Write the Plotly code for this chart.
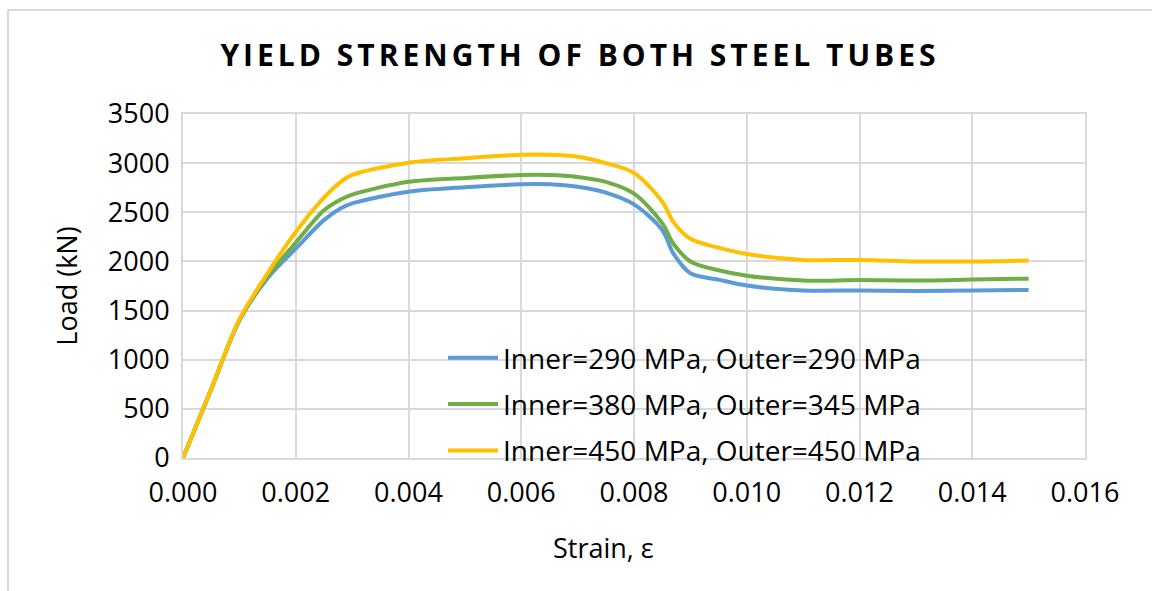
import plotly.graph_objects as go

strain = [0, 0.0005, 0.001, 0.0015, 0.002, 0.0025, 0.0028, 0.003, 0.004, 0.005,
          0.006, 0.0065, 0.007, 0.0075, 0.008, 0.0085, 0.0087, 0.009, 0.0095,
          0.010, 0.011, 0.012, 0.013, 0.014, 0.015]

load_290_290 = [0, 700, 1400, 1830, 2130, 2420, 2540, 2590, 2710, 2755,
                2785, 2785, 2760, 2700, 2580, 2320, 2080, 1880, 1815,
                1755, 1705, 1705, 1700, 1705, 1710]
load_380_345 = [0, 700, 1400, 1850, 2190, 2520, 2630, 2680, 2810, 2850,
                2880, 2880, 2860, 2810, 2690, 2390, 2180, 2000, 1910,
                1855, 1805, 1810, 1805, 1815, 1825]
load_450_450 = [0, 700, 1410, 1880, 2300, 2650, 2810, 2880, 3005, 3050,
                3085, 3085, 3065, 3000, 2900, 2610, 2400, 2230, 2140,
                2075, 2015, 2015, 2000, 2000, 2010]

names = ["Inner=290 MPa, Outer=290 MPa",
         "Inner=380 MPa, Outer=345 MPa",
         "Inner=450 MPa, Outer=450 MPa"]
colors = ["#5B9BD5", "#70AD47", "#FFC000"]
series = [load_290_290, load_380_345, load_450_450]

x_ticks = [0, 0.002, 0.004, 0.006, 0.008, 0.010, 0.012, 0.014, 0.016]
y_ticks = [0, 500, 1000, 1500, 2000, 2500, 3000, 3500]

FONT = "Open Sans"
fig = go.Figure()
for i, (nm, c, ys) in enumerate(zip(names, colors, series)):
    fig.add_trace(go.Scatter(x=strain, y=ys, name=nm, mode="lines",
                             line=dict(color=c, width=4, shape="spline", smoothing=0.9),
                             legendgroup=f"g{i}"))

W, H = 1152, 591
L, R, T, B = 183, 1085, 114, 458
fig.update_layout(
    width=W, height=H,
    margin=dict(l=L, r=W - R, t=T, b=H - B),
    paper_bgcolor="white", plot_bgcolor="white",
    font=dict(family=FONT, color="#000000", size=27),
    title=dict(text='<span style="letter-spacing:4px">YIELD STRENGTH OF BOTH STEEL TUBES</span>',
               x=580 / W, xref="container", xanchor="center",
               y=1 - 55 / H, yref="container", yanchor="middle",
               font=dict(family=FONT, size=30, weight="bold", color="#000000")),
    xaxis=dict(range=[0, 0.016], tickvals=x_ticks,
               ticktext=[f"{v:.3f}" for v in x_ticks],
               showgrid=True, gridcolor="#D9D9D9", gridwidth=2,
               zeroline=False, showline=True, linecolor="#D9D9D9", linewidth=2, mirror=True,
               ticks="", tickfont=dict(size=27), ticklabelstandoff=10),
    yaxis=dict(range=[0, 3500], tickvals=y_ticks,
               showgrid=True, gridcolor="#D9D9D9", gridwidth=2,
               zeroline=False, showline=True, linecolor="#D9D9D9", linewidth=2, mirror=True,
               ticks="", tickfont=dict(size=27), ticklabelstandoff=6,
               title=dict(text="Load (kN)", font=dict(size=27), standoff=22)),
    legend=dict(x=(443 - L) / (R - L), y=(B - 333) / (B - T), xanchor="left", yanchor="top",
                bgcolor="rgba(0,0,0,0)", font=dict(size=28, family=FONT),
                tracegroupgap=7, itemwidth=50),
    showlegend=True,
)
fig.add_annotation(text="Strain, ε", x=(603 - L) / (R - L), y=-(547 - B) / (B - T),
                   xref="paper", yref="paper", showarrow=False,
                   font=dict(size=27, family=FONT), xanchor="center", yanchor="middle")
# outer chart frame (top and left edges visible)
fx = (8 - L) / (R - L)
fy = (B - 10) / (B - T)
fig.add_shape(type="line", xref="paper", yref="paper", x0=fx, x1=(W - L) / (R - L), y0=fy, y1=fy,
              line=dict(color="#D9D9D9", width=2))
fig.add_shape(type="line", xref="paper", yref="paper", x0=fx, x1=fx, y0=fy, y1=-(H - B) / (B - T),
              line=dict(color="#D9D9D9", width=2))

fig.write_html("out.html")
